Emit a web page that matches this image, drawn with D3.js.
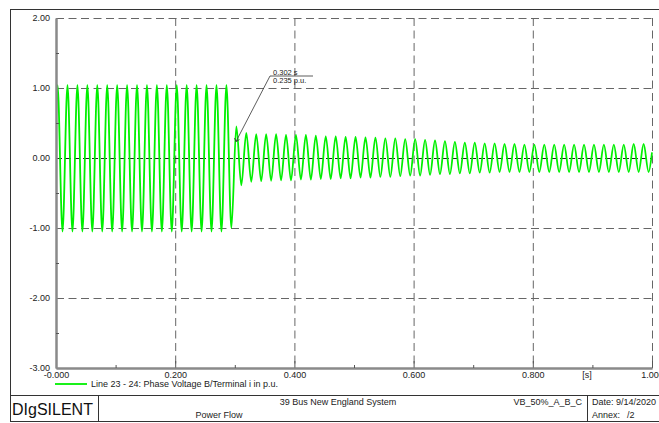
<!DOCTYPE html>
<html>
<head>
<meta charset="utf-8">
<script src="https://cdnjs.cloudflare.com/ajax/libs/d3/7.8.5/d3.min.js"></script>
<style>
  body { margin: 0; background: #fff; }
  svg { display: block; font-family: "Liberation Sans", Arial, sans-serif; }
  .tick text { fill: #222; }
</style>
</head>
<body>
<div id="chart"></div>
<script>
// Axis ticks
const xTicks = [0, 0.2, 0.4, 0.6, 0.8, 1.0]
const xTickLabels = ["-0.000", "0.200", "0.400", "0.600", "0.800", "1.000"]
const xMinorTicks = [0.1, 0.3, 0.5, 0.7, 0.9]
const yTicks = [2, 1, 0, -1, -2, -3]
const yTickLabels = ["2.00", "1.00", "0.00", "-1.00", "-2.00", "-3.00"]
const yMinorTicks = [1.5, 0.5, -0.5, -1.5, -2.5]

// Waveform: 60 Hz, value read at each positive peak and negative trough of every cycle
const freqHz = 60
const firstPeakTime = 0.0026
const startValue = 0.55
const endValue = 0.08
const peakValues = [
  1.04, 1.04, 1.04, 1.04, 1.04, 1.04, 1.04, 1.04, 1.04, 1.04,
  1.04, 1.04, 1.04, 1.04, 1.04, 1.04, 1.04, 1.04,
  0.45, 0.36,
  0.34, 0.34, 0.34, 0.33, 0.33, 0.33, 0.32, 0.31, 0.31, 0.30,
  0.30, 0.295, 0.29, 0.28, 0.28, 0.27, 0.27, 0.26, 0.25, 0.24,
  0.23, 0.22, 0.22, 0.21, 0.21, 0.20, 0.20, 0.19, 0.19, 0.19,
  0.19, 0.19, 0.19, 0.19, 0.19, 0.19, 0.19, 0.19, 0.20, 0.20
]
const troughValues = [
  -1.05, -1.05, -1.05, -1.05, -1.05, -1.05, -1.05, -1.05, -1.05, -1.05,
  -1.05, -1.05, -1.05, -1.05, -1.05, -1.05, -1.05, -1.00,
  -0.39, -0.34,
  -0.33, -0.325, -0.32, -0.32, -0.31, -0.31, -0.30, -0.30, -0.29, -0.29,
  -0.28, -0.28, -0.27, -0.27, -0.26, -0.25, -0.25, -0.24, -0.23, -0.23,
  -0.22, -0.22, -0.21, -0.21, -0.20, -0.20, -0.20, -0.20, -0.20, -0.20,
  -0.20, -0.20, -0.20, -0.20, -0.20, -0.20, -0.20, -0.20, -0.20, -0.20
]

// Cursor annotation
const markerTime = 0.302
const markerValue = 0.235

const legendLabel = "Line 23 - 24: Phase Voltage B/Terminal i in p.u."
const titleBlock = {
  brand: "DIgSILENT",
  project: "39 Bus New England System",
  page: "Power Flow",
  study: "VB_50%_A_B_C",
  date: "Date: 9/14/2020",
  annex: "Annex:",
  annexNo: "/2"
}

// Build point list from the peaks and troughs
let points = [{t: 0, v: startValue}]
peakValues.forEach((p, k) => {
  let tp = firstPeakTime + k / freqHz
  points.push({t: tp, v: p})
  points.push({t: tp + 0.5 / freqHz, v: troughValues[k]})
})
points.push({t: 1.0, v: endValue})

let width = 659
let height = 423
let fontSize = 9
let green = "#00f000"

const svg = d3.select("#chart")
  .append("svg")
  .attr("width", width)
  .attr("height", height)

svg.append("rect").attr("width", width).attr("height", height).attr("fill", "#fff")

// Scales
const xScale = d3.scaleLinear().domain([0, 1]).range([56, 652])
const yScale = d3.scaleLinear().domain([-3, 2]).range([368, 18])

// Grid lines
let grid = svg.append("g")
grid.selectAll(".hgrid")
  .data(yTicks.filter(d => d != 0 && d != -3))
  .enter()
  .append("line")
  .attr("x1", xScale(0)).attr("x2", xScale(1))
  .attr("y1", d => yScale(d) + 0.5).attr("y2", d => yScale(d) + 0.5)
  .attr("stroke", "#666").attr("stroke-dasharray", "8,4.5")
grid.selectAll(".vgrid")
  .data(xTicks.filter(d => d != 0))
  .enter()
  .append("line")
  .attr("x1", d => xScale(d) + 0.5).attr("x2", d => xScale(d) + 0.5)
  .attr("y1", yScale(2)).attr("y2", yScale(-3))
  .attr("stroke", "#666").attr("stroke-dasharray", "8,4.5")
grid.append("line")
  .attr("x1", xScale(0)).attr("x2", xScale(1))
  .attr("y1", yScale(0) + 0.5).attr("y2", yScale(0) + 0.5)
  .attr("stroke", "#222").attr("stroke-dasharray", "6,3")

// Waveform
svg.append("defs").append("clipPath").attr("id", "plotClip")
  .append("rect").attr("x", xScale(0)).attr("y", 0).attr("width", xScale(1) - xScale(0) + 1).attr("height", 380)

const line = d3.line()
  .x(d => xScale(d.t))
  .y(d => yScale(d.v))
  .curve(d3.curveMonotoneX)

svg.append("path")
  .datum(points)
  .attr("clip-path", "url(#plotClip)")
  .attr("d", line)
  .attr("fill", "none")
  .attr("stroke", green)
  .attr("stroke-width", 1.8)

// Axes
const xAxis = d3.axisBottom(xScale).tickValues(xTicks)
  .tickFormat((d, i) => xTickLabels[i]).tickSizeInner(-7).tickSizeOuter(0).tickPadding(4)
const xMinor = d3.axisBottom(xScale).tickValues(xMinorTicks).tickFormat("").tickSizeInner(-3).tickSizeOuter(0)
const yAxis = d3.axisLeft(yScale).tickValues(yTicks)
  .tickFormat((d, i) => yTickLabels[i]).tickSizeInner(0).tickSizeOuter(0).tickPadding(6)
const yMinor = d3.axisLeft(yScale).tickValues(yMinorTicks).tickFormat("").tickSizeInner(-3).tickSizeOuter(0)

svg.append("g").attr("transform", "translate(0," + yScale(-3) + ")").call(xAxis)
svg.append("g").attr("transform", "translate(0," + yScale(-3) + ")").call(xMinor)
svg.append("g").attr("transform", "translate(" + xScale(0) + ",0)").call(yAxis)
svg.append("g").attr("transform", "translate(" + xScale(0) + ",0)").call(yMinor)

svg.selectAll(".domain").attr("stroke", "#8a8a8a").attr("stroke-width", 2)
svg.selectAll(".tick line").attr("stroke", "#555")
svg.selectAll(".tick text").attr("font-size", fontSize).attr("font-family", "Liberation Sans, Arial, sans-serif")

svg.append("text")
  .attr("x", 587).attr("y", 378)
  .attr("text-anchor", "middle").attr("font-size", fontSize).attr("fill", "#222")
  .text("[s]")

// Cursor annotation
let mx = xScale(markerTime)
let my = yScale(markerValue)
let ann = svg.append("g").attr("stroke", "#333").attr("fill", "none").attr("stroke-width", 0.8)
ann.append("line").attr("x1", mx).attr("y1", my).attr("x2", 270).attr("y2", 76)
ann.append("line").attr("x1", 270).attr("y1", 76).attr("x2", 313).attr("y2", 76)
ann.append("path").attr("d", `M${mx - 1.5},${my - 3.5} L${mx},${my} L${mx + 3.5},${my - 2}`)
svg.append("text").attr("x", 273).attr("y", 75).attr("font-size", 7.5).attr("fill", "#222")
  .text(markerTime.toFixed(3) + " s")
svg.append("text").attr("x", 273).attr("y", 82.5).attr("font-size", 7.5).attr("fill", "#222")
  .text(markerValue.toFixed(3) + " p.u.")

// Legend
svg.append("line").attr("x1", 55).attr("x2", 87).attr("y1", 384).attr("y2", 384)
  .attr("stroke", green).attr("stroke-width", 1.8)
svg.append("text").attr("x", 91).attr("y", 387).attr("font-size", fontSize).attr("fill", "#222")
  .text(legendLabel)

// Frame and title block
let frame = svg.append("g").attr("stroke", "#333").attr("fill", "none").attr("stroke-width", 1)
frame.append("rect").attr("x", 10.5).attr("y", 9.5).attr("width", 660).attr("height", 412)
frame.append("line").attr("x1", 10.5).attr("x2", 670).attr("y1", 395.5).attr("y2", 395.5)
frame.append("line").attr("x1", 98.5).attr("x2", 98.5).attr("y1", 395.5).attr("y2", 421.5)
frame.append("line").attr("x1", 587.5).attr("x2", 587.5).attr("y1", 395.5).attr("y2", 421.5)

svg.append("text").attr("x", 12).attr("y", 415).attr("font-size", 16).attr("fill", "#111")
  .text(titleBlock.brand)
svg.append("text").attr("x", 338).attr("y", 405).attr("text-anchor", "middle").attr("font-size", fontSize).attr("fill", "#222")
  .text(titleBlock.project)
svg.append("text").attr("x", 219).attr("y", 418).attr("text-anchor", "middle").attr("font-size", fontSize).attr("fill", "#222")
  .text(titleBlock.page)
svg.append("text").attr("x", 582).attr("y", 405).attr("text-anchor", "end").attr("font-size", fontSize).attr("fill", "#222")
  .text(titleBlock.study)
svg.append("text").attr("x", 592).attr("y", 405).attr("font-size", fontSize).attr("fill", "#222")
  .text(titleBlock.date)
svg.append("text").attr("x", 592).attr("y", 418).attr("font-size", fontSize).attr("fill", "#222")
  .text(titleBlock.annex)
svg.append("text").attr("x", 627).attr("y", 418).attr("font-size", fontSize).attr("fill", "#222")
  .text(titleBlock.annexNo)
</script>
</body>
</html>
